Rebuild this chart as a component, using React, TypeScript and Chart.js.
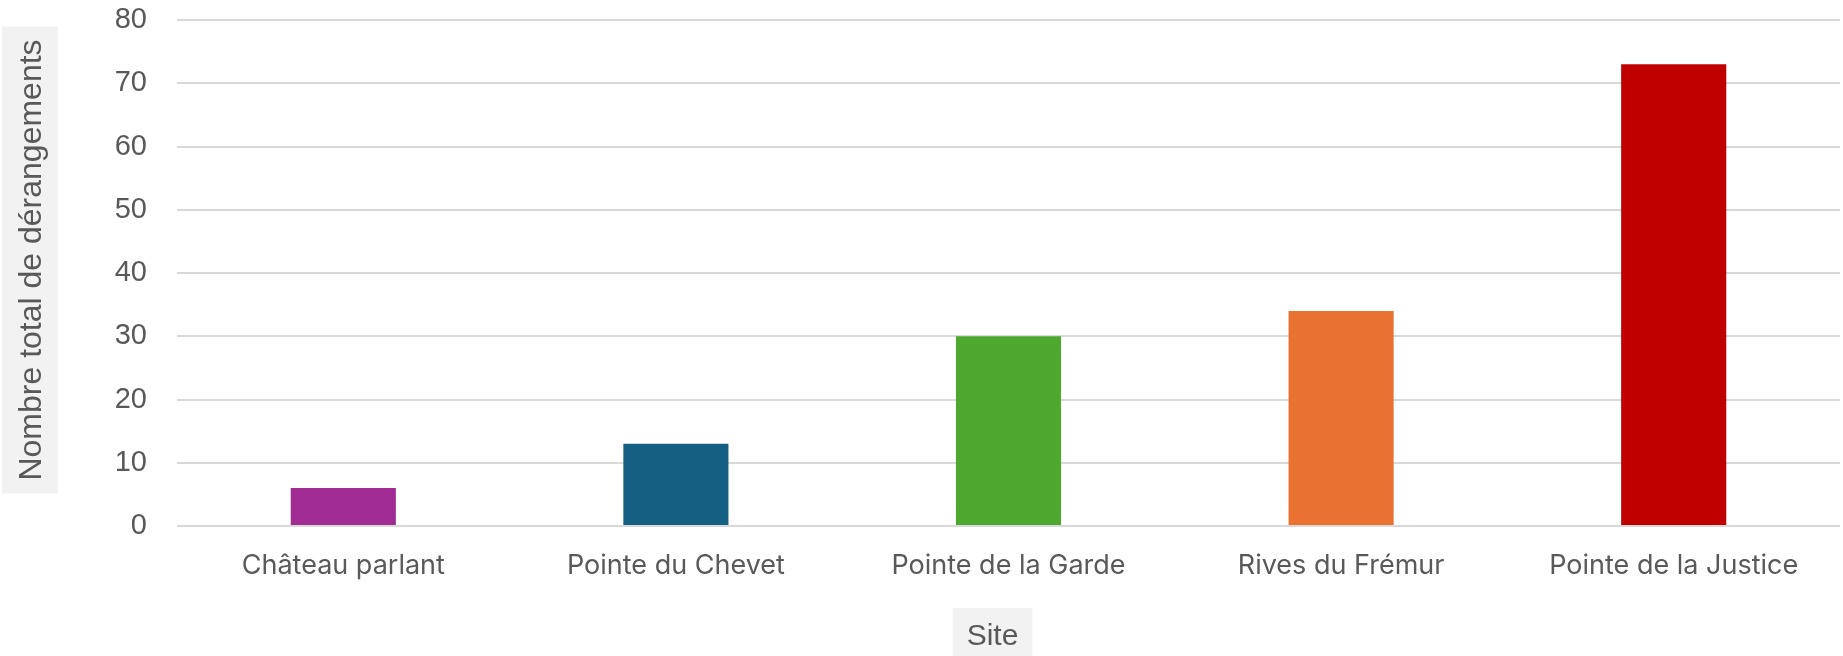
import React, { useEffect, useRef } from "react";
import { Chart, registerables } from "chart.js";

Chart.register(...registerables);

const categories = [
  "Château parlant",
  "Pointe du Chevet",
  "Pointe de la Garde",
  "Rives du Frémur",
  "Pointe de la Justice",
];
const values = [6, 13, 30, 34, 73];
const barColors = ["#A02B93", "#156082", "#4EA72E", "#E97132", "#C00000"];
const yTitle = "Nombre total de dérangements";
const xTitle = "Site";
const yMin = 0;
const yMax = 80;
const yStep = 10;

const TEXT = "#595959";
const BOX = "#F2F2F2";

const titlePlugin = {
  id: "boxedTitles",
  afterDraw(chart: any) {
    const { ctx, chartArea } = chart;
    ctx.save();
    // Y title
    ctx.font = "32px 'Liberation Sans', Arial, sans-serif";
    const yw = ctx.measureText(yTitle).width;
    const ycx = 30;
    const ycy = (chartArea.top + chartArea.bottom) / 2 - 13;
    ctx.fillStyle = BOX;
    ctx.fillRect(ycx - 28, ycy - yw / 2 - 13, 56, yw + 26);
    ctx.translate(ycx, ycy);
    ctx.rotate(-Math.PI / 2);
    ctx.fillStyle = TEXT;
    ctx.textAlign = "center";
    ctx.textBaseline = "middle";
    ctx.fillText(yTitle, 0, 2);
    ctx.restore();

    // X title
    ctx.save();
    ctx.font = "30px 'Liberation Sans', Arial, sans-serif";
    const xw = ctx.measureText(xTitle).width;
    const xcx = (chartArea.left + chartArea.right) / 2 - 16;
    const xcy = 637;
    ctx.fillStyle = BOX;
    ctx.fillRect(xcx - xw / 2 - 14, 608, xw + 28, 60);
    ctx.fillStyle = TEXT;
    ctx.textAlign = "center";
    ctx.textBaseline = "middle";
    ctx.fillText(xTitle, xcx, xcy);
    ctx.restore();
  },
};

export default function App() {
  const ref = useRef<HTMLCanvasElement>(null);

  useEffect(() => {
    document.body.style.margin = "0";
    document.body.style.overflow = "hidden";
    const chart = new Chart(ref.current as HTMLCanvasElement, {
      type: "bar",
      data: {
        labels: categories,
        datasets: [
          {
            data: values,
            backgroundColor: barColors,
            borderWidth: 0,
            categoryPercentage: 1,
            barPercentage: 0.316,
          },
        ],
      },
      options: {
        animation: false,
        responsive: false,
        maintainAspectRatio: false,
        layout: { padding: { top: 20, right: 3, left: 0, bottom: 0 } },
        plugins: {
          legend: { display: false },
          tooltip: { enabled: false },
          title: { display: false },
        },
        scales: {
          x: {
            grid: { display: false, drawTicks: false },
            border: { display: false },
            ticks: {
              color: TEXT,
              padding: 24,
              maxRotation: 0,
              autoSkip: false,
              font: { family: "Inter, 'Open Sans', sans-serif", size: 27 },
            },
            afterFit(scale: any) {
              scale.height = 130;
            },
          },
          y: {
            min: yMin,
            max: yMax,
            grid: {
              color: "#D9D9D9",
              lineWidth: 2,
              drawTicks: true,
              tickLength: 30,
              tickColor: "rgba(0,0,0,0)",
            },
            border: { display: false },
            ticks: {
              stepSize: yStep,
              color: TEXT,
              padding: 0,
              font: { family: "'Liberation Sans', Arial, sans-serif", size: 29 },
            },
            afterFit(scale: any) {
              scale.width = 177;
            },
          },
        },
      },
      plugins: [titlePlugin],
    });
    return () => chart.destroy();
  }, []);

  return (
    <div style={{ width: 1843, height: 656 }}>
      <canvas ref={ref} width={1843} height={656} style={{ display: "block" }} />
    </div>
  );
}
